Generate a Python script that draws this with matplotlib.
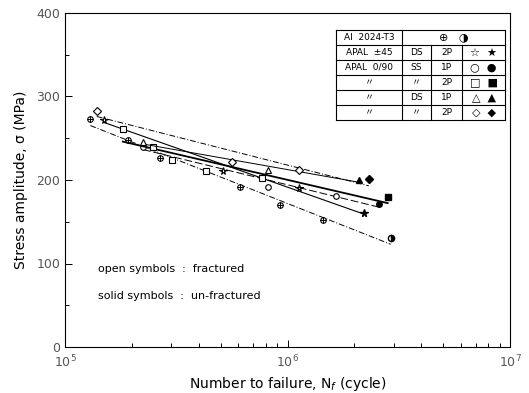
import numpy as np
import matplotlib
matplotlib.use("Agg")
import matplotlib.pyplot as plt
from matplotlib.ticker import FixedLocator, NullFormatter

# ---------------- data ----------------
al_N = [1.30e5, 1.92e5, 2.68e5, 6.14e5, 9.29e5, 1.45e6]
al_S = [273, 248, 226, 192, 170, 152]
al_run_N = [2.91e6]
al_run_S = [131]

star_N = [1.50e5, 5.15e5, 1.13e6]
star_S = [272, 211, 190]
star_run_N = [2.20e6]
star_run_S = [160]

circ_N = [2.24e5, 8.20e5, 1.65e6]
circ_S = [240, 192, 181]
circ_run_N = [2.57e6]
circ_run_S = [171]

sq_N = [1.82e5, 2.49e5, 3.03e5, 4.32e5, 7.71e5]
sq_S = [261, 240, 224, 211, 202]
sq_run_N = [2.82e6]
sq_run_S = [180]

tri_N = [2.24e5, 8.20e5]
tri_S = [245, 212]
tri_run_N = [2.09e6]
tri_run_S = [200]

dia_N = [1.39e5, 5.65e5, 1.13e6]
dia_S = [283, 222, 212]
dia_run_N = [2.32e6]
dia_run_S = [201]

y_ticks = [0, 100, 200, 300, 400]
x_ticks = [1e5, 1e6, 1e7]
x_tick_labels = ["10$^5$", "10$^6$", "10$^7$"]

legend_rows = [
    ("APAL  \u00b145", "DS", "2P", "\u2606  \u2605"),
    ("APAL  0/90", "SS", "1P", "\u25cb  \u25cf"),
    ("\u3003", "\u3003", "2P", "\u25a1  \u25a0"),
    ("\u3003", "DS", "1P", "\u25b3  \u25b2"),
    ("\u3003", "\u3003", "2P", "\u25c7  \u25c6"),
]

# ---------------- figure ----------------
fig = plt.figure(figsize=(5.29, 3.93), dpi=100)
ax = fig.add_axes([65/529, 46/393, 445/529, 334/393])
ax.set_xscale("log")
ax.set_xlim(1e5, 1e7)
ax.set_ylim(0, 400)

series = [
    (al_N, al_S, al_run_N, al_run_S, "o", (0, (6, 2, 1, 2)), 0.7),
    (star_N, star_S, star_run_N, star_run_S, "*", "-", 0.8),
    (circ_N, circ_S, circ_run_N, circ_run_S, "o", (0, (8, 3)), 0.7),
    (sq_N, sq_S, sq_run_N, sq_run_S, "s", "-", 1.3),
    (tri_N, tri_S, tri_run_N, tri_run_S, "^", "-", 0.7),
    (dia_N, dia_S, dia_run_N, dia_run_S, "D", (0, (6, 2, 1, 2)), 0.7),
]

for idx, (N, S, rN, rS, mo, ls, lw) in enumerate(series):
    allN = np.array(N + rN)
    allS = np.array(S + rS)
    p = np.polyfit(np.log10(allN), allS, 1)
    xx = np.logspace(np.log10(allN.min()), np.log10(allN.max()), 50)
    ax.plot(xx, np.polyval(p, np.log10(xx)), color="black", ls=ls, lw=lw)
    ms = 4 if mo not in ("*", "D") else (5.5 if mo == "*" else 3.6)
    ax.plot(N, S, ls="none", marker=mo, ms=ms, mfc="white", mec="black", mew=0.8)
    if idx == 0:
        ax.plot(N, S, ls="none", marker="+", ms=ms, color="black", mew=0.7)
        ax.plot(rN, rS, ls="none", marker="o", ms=ms + 0.5, mec="black",
                fillstyle="right", color="black", markerfacecoloralt="white")
    else:
        ax.plot(rN, rS, ls="none", marker=mo, ms=ms, color="black")

# ticks
ax.yaxis.set_major_locator(FixedLocator(y_ticks))
ax.yaxis.set_minor_locator(FixedLocator([50, 150, 250, 350]))
ax.set_yticklabels([str(v) for v in y_ticks], color="#555555", fontsize=9)
ax.xaxis.set_major_locator(FixedLocator(x_ticks))
ax.set_xticklabels(x_tick_labels, color="#555555", fontsize=9)
ax.xaxis.set_minor_formatter(NullFormatter())
ax.tick_params(which="both", direction="in", length=3, width=0.7)
ax.tick_params(which="major", length=5)
ax.tick_params(axis="x", which="major", pad=5)
for sp in ax.spines.values():
    sp.set_linewidth(0.8)

ax.set_xlabel("Number to failure, N$_f$ (cycle)", fontsize=10, labelpad=3)
ax.xaxis.set_label_coords(0.5, -0.085)
ax.set_ylabel("Stress amplitude, \u03c3 (MPa)", fontsize=10, labelpad=6)

ax.text(0.075, 0.225, "open symbols  :  fractured", transform=ax.transAxes, fontsize=8)
ax.text(0.075, 0.145, "solid symbols  :  un-fractured", transform=ax.transAxes, fontsize=8)

# ---------------- legend table ----------------
tx0, tx1 = 336/529, 505/529
ty1 = 1 - 30/393
rowh = 15/393
cols = [336/529, 402/529, 431/529, 462/529, 505/529]
nrows = 6
ty0 = ty1 - nrows * rowh
lk = dict(transform=fig.transFigure, color="black", lw=0.8)
for i in range(nrows + 1):
    y = ty1 - i * rowh
    fig.add_artist(plt.Line2D([tx0, tx1], [y, y], **lk))
fig.add_artist(plt.Line2D([tx0, tx0], [ty0, ty1], **lk))
fig.add_artist(plt.Line2D([tx1, tx1], [ty0, ty1], **lk))
fig.add_artist(plt.Line2D([cols[1], cols[1]], [ty0, ty1], **lk))
for c in cols[2:4]:
    fig.add_artist(plt.Line2D([c, c], [ty0, ty1 - rowh], **lk))

fam = ["DejaVu Sans", "Noto Sans CJK JP"]
fig.text((cols[0] + cols[1]) / 2, ty1 - 0.5 * rowh, "Al  2024-T3", ha="center", va="center",
         fontsize=6.5, family=fam)
fig.text((cols[1] + cols[4]) / 2, ty1 - 0.5 * rowh, "\u2295   \u25d1", ha="center", va="center",
         fontsize=8, family=fam)
for i, row in enumerate(legend_rows):
    yc = ty1 - (i + 1.5) * rowh
    for j, t in enumerate(row):
        fs = 8 if j == 3 else 6.5
        fig.text((cols[j] + cols[j + 1]) / 2, yc, t, ha="center", va="center",
                 fontsize=fs, family=fam)

fig.savefig("out.png", dpi=100, facecolor="white")
